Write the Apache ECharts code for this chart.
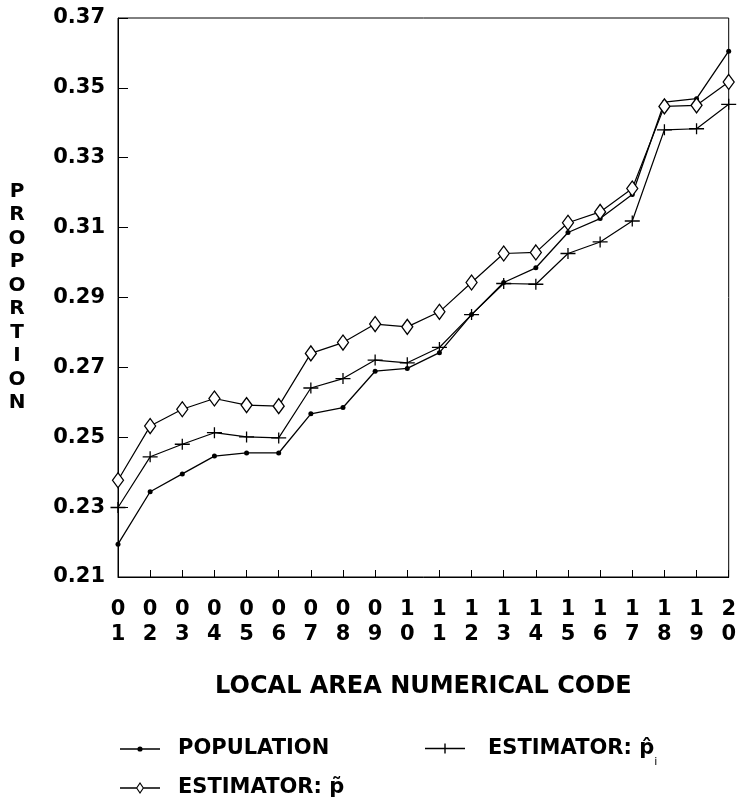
<!DOCTYPE html>
<html>
<head>
<meta charset="utf-8">
<script src="https://cdn.jsdelivr.net/npm/echarts@6/dist/echarts.min.js"></script>
<style>html,body{margin:0;padding:0;background:#fff;}#chart{width:739px;height:805px;}</style>
</head>
<body>
<div id="chart"></div>
<script>
const categories = ['01','02','03','04','05','06','07','08','09','10','11','12','13','14','15','16','17','18','19','20'];
const yTicks = [0.21, 0.23, 0.25, 0.27, 0.29, 0.31, 0.33, 0.35, 0.37];
const population = [0.2194, 0.2344, 0.2395, 0.2446, 0.2455, 0.2455, 0.2567, 0.2585, 0.2689, 0.2697, 0.2742, 0.2851, 0.2943, 0.2985, 0.3086, 0.3126, 0.3195, 0.3459, 0.3469, 0.3605];
const estimatorHat = [0.2299, 0.2444, 0.2480, 0.2513, 0.2501, 0.2498, 0.2641, 0.2668, 0.2721, 0.2713, 0.2757, 0.2851, 0.2940, 0.2938, 0.3026, 0.3059, 0.3119, 0.3380, 0.3383, 0.3453];
const estimatorTilde = [0.2377, 0.2532, 0.2580, 0.2611, 0.2592, 0.2589, 0.2740, 0.2771, 0.2824, 0.2816, 0.2859, 0.2943, 0.3026, 0.3029, 0.3114, 0.3145, 0.3212, 0.3447, 0.3450, 0.3517];

const FONT = 'DejaVu Sans';
const NAME_POP = 'POPULATION';
const NAME_HAT = 'ESTIMATOR: p\u0302';
const NAME_TILDE = 'ESTIMATOR: p\u0303';

const chart = echarts.init(document.getElementById('chart'), null, {renderer: 'canvas'});
const plusPath = 'path://M0,4.4 L14,4.4 L14,5.6 L0,5.6 Z M6.4,0 L7.6,0 L7.6,10 L6.4,10 Z';

// legend icons (40 x 14 boxes): line + marker
const iconPop = 'path://M0,6.3 L40,6.3 L40,7.7 L0,7.7 Z M17.4,7 A2.6,2.6 0 1 1 22.6,7 A2.6,2.6 0 1 1 17.4,7 Z M0,0 L0.01,0 L0.01,0.01 Z M40,14 L39.99,14 L39.99,13.99 Z';
const iconHat = 'path://M0,6.3 L40,6.3 L40,7.7 L0,7.7 Z M19.3,2 L20.7,2 L20.7,12 L19.3,12 Z M0,0 L0.01,0 L0.01,0.01 Z M40,14 L39.99,14 L39.99,13.99 Z';
const iconTilde = 'path://M0,6.3 L16.6,6.3 L16.6,7.7 L0,7.7 Z M23.4,6.3 L40,6.3 L40,7.7 L23.4,7.7 Z M20,1 L24,7 L20,13 L16,7 Z M20,2.9 L17.3,7 L20,11.1 L22.7,7 Z M0,0 L0.01,0 L0.01,0.01 Z M40,14 L39.99,14 L39.99,13.99 Z';

const legendText = {
  fontFamily: FONT, fontWeight: 'bold', fontSize: 21, color: '#000', lineHeight: 22,
  padding: [0, 0, 0, 13]
};
const legendItemStyle = {color: '#000', borderWidth: 0};

chart.setOption({
  animation: false,
  backgroundColor: '#fff',
  textStyle: {fontFamily: FONT, color: '#000'},
  grid: {left: 118, right: 6, top: 18, bottom: 228, show: true, borderColor: '#000', borderWidth: 1},
  xAxis: {
    type: 'category',
    data: categories,
    boundaryGap: false,
    name: 'LOCAL AREA NUMERICAL CODE',
    nameLocation: 'middle',
    nameGap: 110,
    nameTextStyle: {fontFamily: FONT, fontWeight: 'bold', fontSize: 24, color: '#000', verticalAlign: 'middle'},
    axisLine: {lineStyle: {color: '#000', width: 1}},
    axisTick: {inside: true, length: 7, lineStyle: {color: '#000'}},
    axisLabel: {
      interval: 0, margin: 20, fontFamily: FONT, fontWeight: 'bold', fontSize: 21, lineHeight: 25, color: '#000',
      formatter: v => v.charAt(0) + '\n' + v.charAt(1)
    },
    splitLine: {show: false}
  },
  yAxis: {
    type: 'value',
    min: 0.21,
    max: 0.37,
    name: 'P\nR\nO\nP\nO\nR\nT\nI\nO\nN',
    nameLocation: 'middle',
    nameRotate: 0,
    nameGap: 101,
    nameTextStyle: {fontFamily: FONT, fontWeight: 'bold', fontSize: 20, lineHeight: 23.5, color: '#000', align: 'center', verticalAlign: 'middle'},
    axisLine: {show: true, lineStyle: {color: '#000', width: 1}},
    axisTick: {show: true, inside: true, length: 10, customValues: yTicks, lineStyle: {color: '#000'}},
    axisLabel: {
      customValues: yTicks, margin: 13, fontFamily: FONT, fontWeight: 'bold', fontSize: 21, color: '#000',
      formatter: v => Number(v).toFixed(2)
    },
    splitLine: {show: false}
  },
  legend: [
    {
      data: [{name: NAME_POP, icon: iconPop}, {name: NAME_TILDE, icon: iconTilde}],
      orient: 'vertical',
      left: 120, top: 738, height: 120, padding: 0,
      itemWidth: 40, itemHeight: 14, itemGap: 17,
      selectedMode: false,
      itemStyle: legendItemStyle,
      textStyle: legendText
    },
    {
      data: [{name: NAME_HAT, icon: iconHat}],
      orient: 'vertical',
      left: 425, top: 726, height: 120, padding: 0,
      itemWidth: 40, itemHeight: 14,
      selectedMode: false,
      itemStyle: legendItemStyle,
      formatter: name => '{m|' + name + '}{s|i}',
      textStyle: Object.assign({}, legendText, {
        padding: [0, 0, 0, 18],
        rich: {
          m: {fontFamily: FONT, fontWeight: 'bold', fontSize: 21, lineHeight: 22, color: '#000', padding: [12, 0, 12, 0]},
          s: {fontFamily: FONT, fontWeight: 'normal', fontSize: 11, lineHeight: 12, color: '#000', padding: [31, 0, 3, 0]}
        }
      })
    }
  ],
  series: [
    {
      name: NAME_POP, type: 'line', data: population,
      symbol: 'circle', symbolSize: 5, showAllSymbol: true,
      lineStyle: {color: '#000', width: 1.3},
      itemStyle: {color: '#000'},
      z: 3
    },
    {
      name: NAME_HAT, type: 'line', data: estimatorHat,
      symbol: plusPath, symbolSize: [15, 11], showAllSymbol: true,
      lineStyle: {color: '#000', width: 1.2},
      itemStyle: {color: '#000'},
      z: 2
    },
    {
      name: NAME_TILDE, type: 'line', data: estimatorTilde,
      symbol: 'diamond', symbolSize: [11, 15], showAllSymbol: true,
      lineStyle: {color: '#000', width: 1.2},
      itemStyle: {color: '#fff', borderColor: '#000', borderWidth: 1.3},
      z: 4
    }
  ]
});
</script>
</body>
</html>
